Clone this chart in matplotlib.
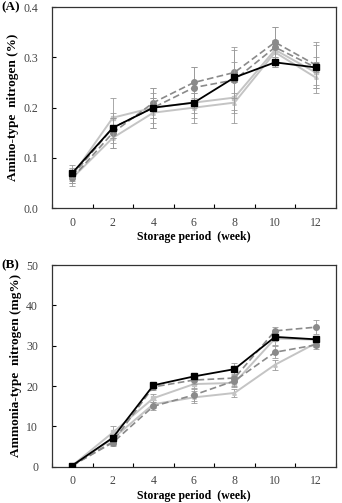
import numpy as np
import matplotlib.pyplot as plt

plt.rcParams['font.family'] = ['Liberation Serif', 'DejaVu Serif']

weeks = [0, 2, 4, 6, 8, 10, 12]

# (A) amino-type nitrogen (%)
amino_black = [0.07, 0.16, 0.20, 0.21, 0.26, 0.29, 0.28]
amino_dash1 = [0.06, 0.15, 0.21, 0.25, 0.27, 0.33, 0.285]
amino_dash2 = [0.065, 0.16, 0.20, 0.24, 0.255, 0.32, 0.28]
amino_light1 = [0.065, 0.18, 0.20, 0.21, 0.22, 0.315, 0.27]
amino_light2 = [0.06, 0.14, 0.19, 0.20, 0.21, 0.31, 0.26]
amino_err_black = [0.01, 0.02, 0.02, 0.02, 0.03, 0.01, 0.01]
amino_err_dash1 = [0.01, 0.03, 0.03, 0.03, 0.05, 0.03, 0.04]
amino_err_dash2 = [0.01, 0.03, 0.03, 0.04, 0.06, 0.04, 0.05]
amino_err_light1 = [0.02, 0.04, 0.04, 0.03, 0.03, 0.02, 0.03]
amino_err_light2 = [0.01, 0.02, 0.03, 0.03, 0.04, 0.02, 0.02]

# (B) ammonia-type nitrogen (mg%)
ammo_black = [0.3, 7.2, 20.2, 22.4, 24.2, 32.2, 31.6]
ammo_dash1 = [0.3, 6.2, 19.8, 21.5, 22.0, 33.7, 34.6]
ammo_dash2 = [0.3, 6.0, 15.0, 17.8, 21.3, 28.4, 30.2]
ammo_light1 = [0.3, 8.5, 17.0, 20.5, 20.8, 31.8, 31.5]
ammo_light2 = [0.3, 7.0, 15.5, 17.2, 18.3, 25.3, 30.6]
ammo_err_black = [0.3, 0.8, 0.5, 0.6, 1.5, 0.8, 0.8]
ammo_err_dash1 = [0.3, 0.8, 0.8, 1.0, 1.0, 1.0, 1.8]
ammo_err_dash2 = [0.3, 0.8, 1.0, 1.5, 1.2, 1.5, 1.0]
ammo_err_light1 = [0.3, 1.5, 1.0, 1.0, 1.0, 1.5, 1.0]
ammo_err_light2 = [0.3, 0.8, 1.0, 1.5, 1.0, 1.2, 1.0]

DARK = '#8a8a8a'
LIGHT = '#c4c4c4'


def draw_series(ax, y, err, color, ls, marker, ms, lw, z):
    ax.errorbar(weeks, y, yerr=err, color=color, ls=ls, lw=lw, marker=marker,
                ms=ms, mfc=color, mec=color, ecolor='#9a9a9a', elinewidth=0.6,
                capsize=2, capthick=0.6, zorder=z, dashes=(4, 2) if ls == '--' else (None, None))


def setup(ax, ylim, yticks, yfmt, ylabel):
    ax.set_xlim(-1, 13)
    ax.set_ylim(*ylim)
    ax.set_xticks(range(-1, 14, 2))
    ax.set_xticklabels([])
    ax.set_xticks(weeks, minor=True)
    ax.set_xticklabels([str(w) for w in weeks], minor=True)
    ax.tick_params(axis='x', which='major', direction='in', length=3, width=0.8)
    ax.tick_params(axis='x', which='minor', length=0, labelsize=8.5, labelcolor='#444444', pad=6)
    ax.set_yticks(yticks)
    ax.set_yticklabels([yfmt.format(v) for v in yticks])
    ax.tick_params(axis='y', direction='in', length=3, width=0.8, labelsize=8.5,
                   labelcolor='#444444', pad=10)
    for s in ax.spines.values():
        s.set_linewidth(0.9)
        s.set_color('#333333')
    ax.set_xlabel('Storage period  (week)', fontsize=8.5, fontweight='bold', labelpad=2)
    ax.set_ylabel(ylabel, fontsize=9.5, fontweight='bold', labelpad=3)


fig = plt.figure(figsize=(3.42, 5.03), dpi=100)
axA = fig.add_axes([0.152, 0.586, 0.830, 0.400])
axB = fig.add_axes([0.152, 0.072, 0.830, 0.401])

draw_series(axA, amino_light1, amino_err_light1, LIGHT, '-', 's', 2.5, 1.4, 2)
draw_series(axA, amino_light2, amino_err_light2, LIGHT, '-', '^', 2.5, 1.4, 2)
draw_series(axA, amino_dash1, amino_err_dash1, DARK, '--', 'o', 4, 1.2, 3)
draw_series(axA, amino_dash2, amino_err_dash2, DARK, '--', 'o', 4, 1.2, 3)
draw_series(axA, amino_black, amino_err_black, 'black', '-', 's', 4, 1.3, 4)
setup(axA, (0, 0.4), [0, 0.1, 0.2, 0.3, 0.4], '{:.1f}', 'Amino-type  nitrogen (%)')

draw_series(axB, ammo_light1, ammo_err_light1, LIGHT, '-', 's', 2.5, 1.4, 2)
draw_series(axB, ammo_light2, ammo_err_light2, LIGHT, '-', '^', 2.5, 1.4, 2)
draw_series(axB, ammo_dash1, ammo_err_dash1, DARK, '--', 'o', 4, 1.2, 3)
draw_series(axB, ammo_dash2, ammo_err_dash2, DARK, '--', 'o', 4, 1.2, 3)
draw_series(axB, ammo_black, ammo_err_black, 'black', '-', 's', 4, 1.3, 4)
setup(axB, (0, 50), [0, 10, 20, 30, 40, 50], '{:d}', 'Ammonia-type  nitrogen (mg%)')

fig.text(0.003, 0.985, '(A)', fontsize=9.5, fontweight='bold', ha='left', va='center')
fig.text(0.003, 0.472, '(B)', fontsize=9.5, fontweight='bold', ha='left', va='center')

fig.savefig('out.png', dpi=100)
